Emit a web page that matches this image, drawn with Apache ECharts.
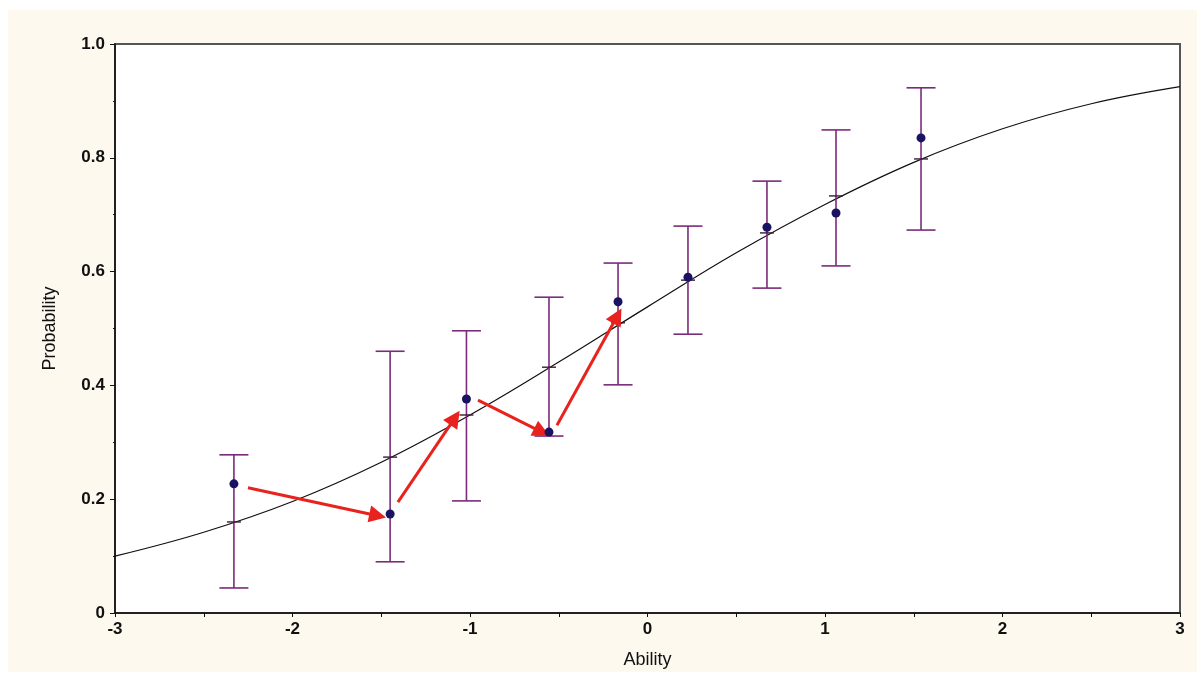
<!DOCTYPE html>
<html>
<head>
<meta charset="utf-8">
<script src="https://cdn.jsdelivr.net/npm/echarts@6/dist/echarts.min.js"></script>
<style>
html,body{margin:0;padding:0;background:#fff;}
#chart{width:1203px;height:678px;}
</style>
</head>
<body>
<div id="chart"></div>
<script>
// Observed groups (ability, observed proportion, error bar limits, model-expected value)
const abilityX   = [-2.33, -1.45, -1.02, -0.555, -0.166, 0.228, 0.673, 1.062, 1.541];
const observedP  = [0.227, 0.174, 0.376, 0.318, 0.547, 0.590, 0.678, 0.703, 0.835];
const upperP     = [0.278, 0.460, 0.496, 0.555, 0.615, 0.680, 0.759, 0.849, 0.923];
const lowerP     = [0.044, 0.090, 0.197, 0.311, 0.401, 0.490, 0.571, 0.610, 0.673];
const expectedP  = [0.160, 0.274, 0.348, 0.432, 0.510, 0.585, 0.668, 0.733, 0.798];

// Model curve
const curveX = [-3, -2.5, -2, -1.5, -1, -0.5, 0, 0.5, 1, 1.5, 2, 2.5, 3];
const curveP = [0.100, 0.142, 0.196, 0.265, 0.348, 0.441, 0.538, 0.633, 0.718, 0.792, 0.851, 0.895, 0.925];

// Red arrows (start -> end)
const arrowFrom = [[-2.251, 0.220], [-1.406, 0.195], [-0.955, 0.374], [-0.510, 0.330]];
const arrowTo   = [[-1.520, 0.171], [-1.085, 0.343], [-0.595, 0.318], [-0.170, 0.522]];

// Axis ticks
const xMin = -3, xMax = 3, xStep = 1;
const yMin = 0, yMax = 1, yStep = 0.2;

const chart = echarts.init(document.getElementById('chart'), null, {renderer: 'canvas'});

const curveData = curveX.map((x, i) => [x, curveP[i]]);
const barData = abilityX.map((x, i) => [x, lowerP[i], upperP[i], expectedP[i]]);
const pointData = abilityX.map((x, i) => [x, observedP[i]]);
const arrowData = arrowFrom.map((f, i) => [
  {coord: f, symbol: 'none'},
  {coord: arrowTo[i], symbol: 'triangle'}
]);

const textColor = '#111111';
const font = 'Liberation Sans, Arial, sans-serif';

chart.setOption({
  animation: false,
  backgroundColor: '#ffffff',
  graphic: [{
    type: 'rect', z: -100, silent: true,
    shape: {x: 8, y: 10, width: 1189, height: 662},
    style: {fill: '#fdf9ee'}
  }],
  grid: {
    left: 115, right: 23, top: 44, bottom: 65,
    show: true, backgroundColor: '#ffffff', borderColor: '#555555', borderWidth: 2
  },
  xAxis: {
    type: 'value', min: xMin, max: xMax, interval: xStep,
    name: 'Ability', nameLocation: 'middle', nameGap: 38,
    nameTextStyle: {fontFamily: font, fontSize: 18, color: textColor, fontWeight: 'normal'},
    axisLine: {show: true, onZero: false, lineStyle: {color: '#111', width: 1.5}},
    axisTick: {show: true, inside: false, length: 4, lineStyle: {color: '#111', width: 1}},
    minorTick: {show: true, splitNumber: 2, length: 4, lineStyle: {color: '#111', width: 1}},
    splitLine: {show: false},
    axisLabel: {fontFamily: font, fontSize: 17, fontWeight: 'bold', color: textColor, margin: 8}
  },
  yAxis: {
    type: 'value', min: yMin, max: yMax, interval: yStep,
    name: 'Probability', nameLocation: 'middle', nameGap: 56, nameRotate: 90,
    nameTextStyle: {fontFamily: font, fontSize: 18, color: textColor, fontWeight: 'normal'},
    axisLine: {show: true, onZero: false, lineStyle: {color: '#111', width: 1.5}},
    axisTick: {show: true, inside: false, length: 5, lineStyle: {color: '#111', width: 1}},
    minorTick: {show: true, splitNumber: 2, length: 2, lineStyle: {color: '#111', width: 1}},
    splitLine: {show: false},
    axisLabel: {
      fontFamily: font, fontSize: 17, fontWeight: 'bold', color: textColor, margin: 10,
      formatter: v => (v === 0 ? '0' : v.toFixed(1))
    }
  },
  series: [
    {
      type: 'line', data: curveData, smooth: 0.4, showSymbol: false, silent: true,
      lineStyle: {color: '#111', width: 1.2}, z: 2
    },
    {
      type: 'custom', data: barData, silent: true, z: 3,
      renderItem: function (params, api) {
        const x = api.value(0);
        const lo = api.coord([x, api.value(1)]);
        const hi = api.coord([x, api.value(2)]);
        const ex = api.coord([x, api.value(3)]);
        const cap = 14.5, mid = 7;
        const st = {stroke: '#7a2b7a', lineWidth: 1.6};
        return {
          type: 'group',
          children: [
            {type: 'line', shape: {x1: hi[0], y1: hi[1], x2: lo[0], y2: lo[1]}, style: st},
            {type: 'line', shape: {x1: hi[0] - cap, y1: hi[1], x2: hi[0] + cap, y2: hi[1]}, style: st},
            {type: 'line', shape: {x1: lo[0] - cap, y1: lo[1], x2: lo[0] + cap, y2: lo[1]}, style: st},
            {type: 'line', shape: {x1: ex[0] - mid, y1: ex[1], x2: ex[0] + mid, y2: ex[1]}, style: {stroke: '#3a1a3a', lineWidth: 1.4}}
          ]
        };
      }
    },
    {
      type: 'scatter', data: pointData, symbol: 'circle', symbolSize: 9, silent: true, z: 6,
      itemStyle: {color: '#1a1262', opacity: 1},
      markLine: {
        silent: true, animation: false, z: 5,
        symbolSize: [17, 17],
        label: {show: false},
        emphasis: {disabled: true},
        lineStyle: {color: '#e8221c', width: 3, type: 'solid', opacity: 1},
        data: arrowData
      }
    }
  ]
});
</script>
</body>
</html>
